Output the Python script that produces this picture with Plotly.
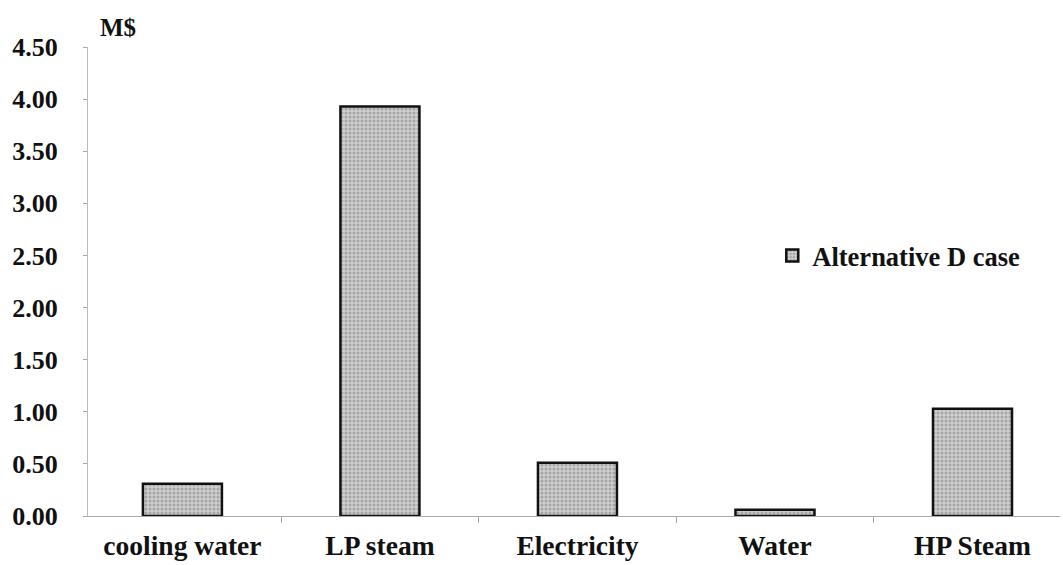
import plotly.graph_objects as go

categories = ["cooling water", "LP steam", "Electricity", "Water", "HP Steam"]
values = [0.31, 3.93, 0.51, 0.06, 1.03]
series_name = "Alternative D case"
y_ticks = [0, 0.5, 1.0, 1.5, 2.0, 2.5, 3.0, 3.5, 4.0, 4.5]

FONT = "Liberation Serif"

fig = go.Figure()
fig.add_trace(go.Bar(
    x=categories, y=values, name=series_name, width=0.4,
    marker=dict(
        color="#c4c4c4",
        line=dict(color="#111111", width=2.5),
        pattern=dict(shape=".", fgcolor="#7a7a7a", bgcolor="#cfcfcf", size=4, solidity=0.45),
    ),
))

fig.update_layout(
    width=1063, height=565,
    margin=dict(l=88, r=3, t=47, b=49),
    plot_bgcolor="white", paper_bgcolor="white",
    font=dict(family=FONT, size=26, color="#111111", weight="bold"),
    showlegend=True,
    legend=dict(x=0.704, y=0.555, xanchor="left", yanchor="middle",
                font=dict(family=FONT, size=26.5, color="#111111", weight="bold"),
                bgcolor="rgba(0,0,0,0)", itemwidth=30, tracegroupgap=0),
    bargap=0.6,
)
fig.update_xaxes(
    type="category", range=[-0.478, 4.443], automargin=False,
    showline=True, linecolor="#aaaaaa", linewidth=1,
    ticks="outside", tickson="boundaries", ticklen=6, tickcolor="#aaaaaa",
    showgrid=False, tickfont=dict(family=FONT, size=27.5, color="#111111", weight="bold"),
    ticklabelstandoff=5,
)
fig.update_yaxes(
    range=[0, 4.5], tickvals=y_ticks, ticktext=[f"{v:.2f}" for v in y_ticks],
    automargin=False,
    showline=True, linecolor="#bbbbbb", linewidth=1,
    ticks="outside", ticklen=4, tickcolor="#aaaaaa",
    showgrid=False, zeroline=False,
    tickfont=dict(family=FONT, size=26, color="#111111", weight="bold"),
    ticklabelstandoff=20,
)
fig.add_annotation(text="M$", xref="paper", yref="paper", x=0.01, y=1.0,
                   xanchor="left", yanchor="bottom", showarrow=False,
                   font=dict(family=FONT, size=25, color="#111111", weight="bold"), yshift=4)
fig.write_html("out.html")
